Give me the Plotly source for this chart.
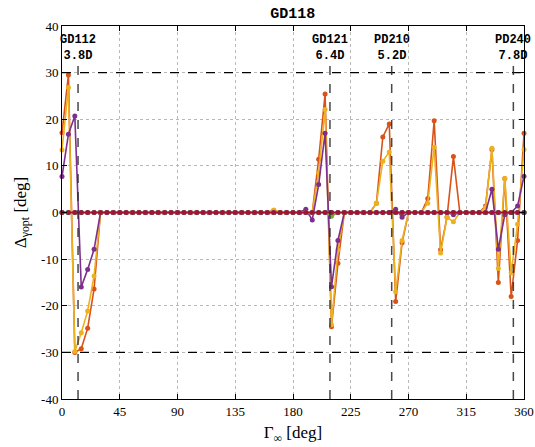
import plotly.graph_objects as go

angles = list(range(0, 361, 5))

def series(points):
    vals = [0.0] * len(angles)
    for a, v in points.items():
        vals[angles.index(a)] = v
    return vals

orange_vals = series({0: 17.1, 5: 29.5, 10: -30.0, 15: -29.2, 20: -24.8, 25: -16.4,
                      165: 0.5, 200: 11.4, 205: 25.4, 210: -24.5, 215: -10.9,
                      245: 2.0, 250: 16.2, 255: 19.0, 260: -19.1, 265: -6.5,
                      285: 3.0, 290: 19.7, 295: -8.0, 300: -1.0, 305: 12.0,
                      330: 1.4, 335: 13.5, 340: -15.0, 345: 7.3, 350: -18.0, 355: -6.0, 360: 17.0})
yellow_vals = series({0: 13.4, 5: 26.8, 10: -29.8, 15: -25.8, 20: -21.1, 25: -13.6,
                      165: 0.5, 200: 8.5, 205: 22.1, 210: -24.1, 215: -8.0,
                      245: 2.0, 250: 11.0, 255: 13.0, 260: -17.0, 265: -6.0,
                      285: 2.0, 290: 14.0, 295: -8.7, 300: -1.0, 305: -2.0,
                      330: 1.1, 335: 13.8, 340: -12.0, 345: 7.3, 350: -13.0, 355: -2.5, 360: 13.5})
purple_vals = series({0: 7.7, 5: 16.8, 10: 20.7, 15: -16.0, 20: -12.2, 25: -7.9,
                      190: 0.7, 195: -1.6, 200: 6.0, 205: 17.0, 210: -15.9, 215: -6.0,
                      260: 0.7, 265: -1.0, 305: -0.5,
                      335: 5.0, 340: -7.9, 345: -0.5, 355: 1.4, 360: 7.8})
green_vals = series({210: -0.8})
blue_vals = series({})
lightblue_vals = series({})
darkred_vals = series({})

marker_lines = [12.5, 208.8, 256.9, 351.7]
marker_names = ["GD112", "GD121", "PD210", "PD240"]
marker_dist = ["3.8D", "6.4D", "5.2D", "7.8D"]

xticks = [0, 45, 90, 135, 180, 225, 270, 315, 360]
yticks = [40, 30, 20, 10, 0, -10, -20, -30, -40]
ytick_text = [str(v) for v in yticks]

fig = go.Figure()
traces = [
    (blue_vals, "#0072BD"),
    (orange_vals, "#D95319"),
    (yellow_vals, "#EDB120"),
    (purple_vals, "#7E2F8E"),
    (green_vals, "#77AC30"),
    (lightblue_vals, "#4DBEEE"),
    (darkred_vals, "#A2142F"),
]
for vals, col in traces:
    fig.add_trace(go.Scatter(x=angles, y=vals, mode="lines+markers",
                             line=dict(color=col, width=1.6),
                             marker=dict(color=col, size=5),
                             showlegend=False, cliponaxis=False))

dash_col = "rgba(40,40,40,0.85)"
for yv in (30, -30):
    fig.add_shape(type="line", x0=0, x1=360, y0=yv, y1=yv, xref="x", yref="y",
                  line=dict(color="black", width=1.3, dash="dash"), layer="above")
for xv in marker_lines:
    fig.add_shape(type="line", x0=xv, x1=xv, y0=-40, y1=32.0, xref="x", yref="y",
                  line=dict(color=dash_col, width=1.5, dash="dash"), layer="above")

mono = "Liberation Mono"
for xv, nm, dist in zip(marker_lines, marker_names, marker_dist):
    fig.add_annotation(x=xv, y=31.8, xref="x", yref="y",
                       text="<b>" + nm + "</b><br><b>" + dist + "</b>",
                       showarrow=False, yanchor="bottom", xanchor="center", align="center",
                       borderpad=0,
                       font=dict(family=mono, size=12, color="black"))

serif = "Liberation Serif"
fig.update_layout(
    width=535, height=447,
    margin=dict(l=62, r=11, t=26, b=48, autoexpand=False),
    paper_bgcolor="white", plot_bgcolor="white",
    title=dict(text="<b>GD118</b>", x=0.547, xanchor="center", y=0.972, yanchor="middle",
               font=dict(family=mono, size=15, color="black")),
    font=dict(family=serif, size=13, color="black"),
)
fig.update_xaxes(range=[0, 360], tickvals=xticks, ticktext=[str(v) for v in xticks],
                 showline=True, linecolor="black", linewidth=1, mirror="ticks",
                 ticks="inside", ticklen=5, tickcolor="black",
                 showgrid=True, gridcolor="#b8b8b8", gridwidth=1, griddash="dot",
                 zeroline=False, automargin=False,
                 title=dict(text="Γ<sub>∞</sub> [deg]", font=dict(family=serif, size=17), standoff=8),
                 tickfont=dict(family=serif, size=13))
fig.update_yaxes(range=[-40, 40], tickvals=yticks, ticktext=ytick_text,
                 showline=True, linecolor="black", linewidth=1, mirror="ticks",
                 ticks="inside", ticklen=5, tickcolor="black",
                 showgrid=True, gridcolor="#b8b8b8", gridwidth=1, griddash="dot",
                 zeroline=False, automargin=False,
                 title=dict(text="Δ<sub>γopt</sub> [deg]", font=dict(family=serif, size=17), standoff=10),
                 tickfont=dict(family=serif, size=13))

fig.write_html("out.html", config={"displayModeBar": False},
               post_script="document.body.style.margin='0px';")
